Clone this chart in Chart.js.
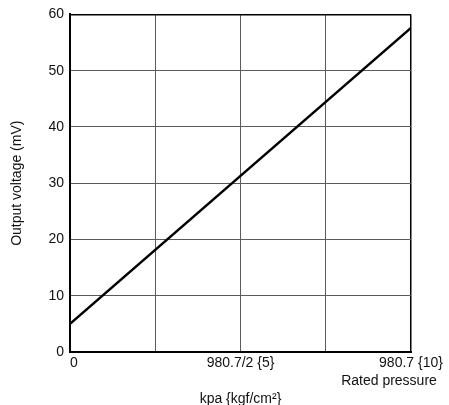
<!DOCTYPE html>
<html>
<head>
<meta charset="utf-8">
<script src="https://cdn.jsdelivr.net/npm/chart.js@4.4.0/dist/chart.umd.min.js"></script>
<style>
  html, body { margin: 0; padding: 0; background: #fff; }
  #wrap { width: 449px; height: 405px; position: relative; }
</style>
</head>
<body>
<div id="wrap"><canvas id="chart"></canvas></div>
<script>
// data
const pressure = [0, 10];          // kgf/cm2
const voltage = [5, 57.6];         // mV
const xTickValues = [0, 5, 10];
const xTickLabels = ['0', '980.7/2 {5}', '980.7 {10}'];
const xExtraLabel = 'Rated pressure';
const xTitle = 'kpa {kgf/cm\u00B2}';
const yTitle = 'Output voltage (mV)';

const FONT = '"Liberation Sans", Arial, sans-serif';
const TXT = '#111';

// x labels drawn by hand: first one is left aligned, extra line under the last
const xLabelsPlugin = {
    id: 'xLabels',
    afterDraw(chart) {
        const ctx = chart.ctx;
        const xs = chart.scales.x;
        const bottom = chart.chartArea.bottom;
        ctx.save();
        ctx.fillStyle = TXT;
        ctx.font = '14px ' + FONT;
        ctx.textBaseline = 'alphabetic';
        xTickValues.forEach((v, i) => {
            ctx.textAlign = i === 0 ? 'left' : 'center';
            ctx.fillText(xTickLabels[i], xs.getPixelForValue(v), bottom + 15);
        });
        ctx.textAlign = 'center';
        ctx.fillText(xExtraLabel, xs.getPixelForValue(10) - 22, bottom + 33);
        const mid = (chart.chartArea.left + chart.chartArea.right) / 2;
        ctx.fillText(xTitle, mid, bottom + 51);
        ctx.restore();
    }
};

new Chart(document.getElementById('chart').getContext('2d'), {
    type: 'line',
    data: {
        datasets: [{
            data: pressure.map((p, i) => ({ x: p, y: voltage[i] })),
            borderColor: '#000',
            borderWidth: 2.5,
            pointRadius: 0,
            tension: 0
        }]
    },
    options: {
        responsive: true,
        maintainAspectRatio: false,
        animation: false,
        layout: { padding: { top: 12, right: 38, left: 0, bottom: 0 } },
        plugins: { legend: { display: false }, tooltip: { enabled: false } },
        scales: {
            x: {
                type: 'linear',
                min: 0,
                max: 10,
                ticks: { stepSize: 2.5, display: false },
                grid: {
                    drawTicks: false,
                    color: ctx => ctx.tick && ctx.tick.value === 10 ? '#000' : '#5a5a5a',
                    lineWidth: ctx => ctx.tick && ctx.tick.value === 10 ? 1.5 : 1
                },
                border: { color: '#000', width: 2 },
                afterFit: scale => { scale.height = 53; }
            },
            y: {
                min: 0,
                max: 60,
                ticks: {
                    stepSize: 10,
                    padding: 6,
                    color: TXT,
                    font: { family: FONT, size: 14 }
                },
                grid: {
                    drawTicks: false,
                    color: ctx => ctx.tick && ctx.tick.value === 60 ? '#000' : '#5a5a5a',
                    lineWidth: ctx => ctx.tick && ctx.tick.value === 60 ? 1.5 : 1
                },
                border: { color: '#000', width: 2 },
                title: {
                    display: true,
                    text: yTitle,
                    color: TXT,
                    font: { family: FONT, size: 14 },
                    padding: { top: 9, bottom: 0 }
                },
                afterFit: scale => { scale.width = 70; }
            }
        }
    },
    plugins: [xLabelsPlugin]
});
</script>
</body>
</html>
